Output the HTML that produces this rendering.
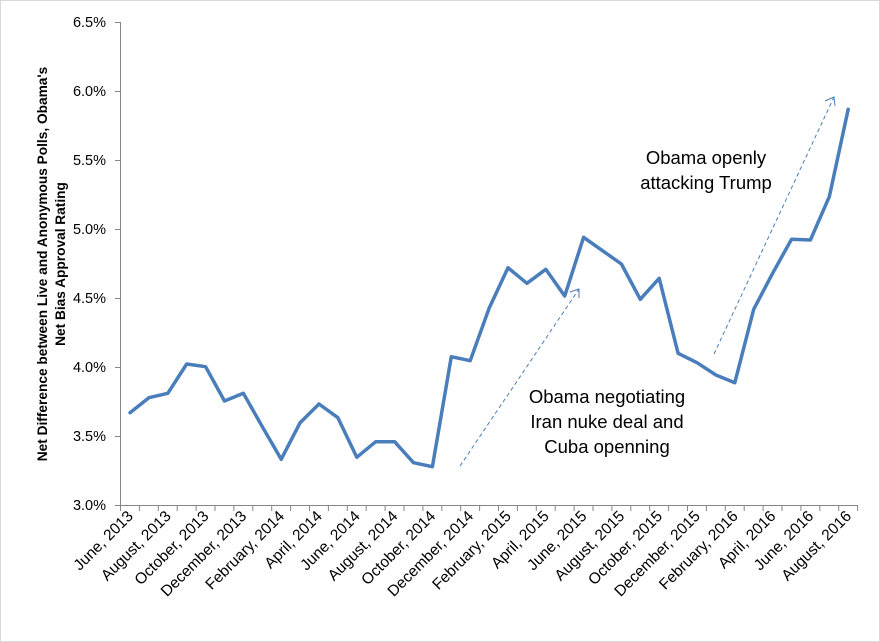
<!DOCTYPE html>
<html><head><meta charset="utf-8"><style>
html,body{margin:0;padding:0;background:#fff;}
svg{display:block;font-family:"Liberation Sans",sans-serif;}
</style></head><body>
<svg width="880" height="642" viewBox="0 0 880 642" xmlns="http://www.w3.org/2000/svg">
<rect x="0.5" y="0.5" width="879" height="641" fill="#fff" stroke="#d9d9d9"/>
<g stroke="#868686" stroke-width="1">
<line x1="120.5" y1="22" x2="120.5" y2="505"/>
<line x1="120.5" y1="505.5" x2="858" y2="505.5"/>
<path d="M115 22.5H120.5M115 91.5H120.5M115 160.5H120.5M115 229.5H120.5M115 298.5H120.5M115 367.5H120.5M115 436.5H120.5M115 505.5H120.5"/>
<path d="M120.5 505V511M139.4 505V511M158.3 505V511M177.2 505V511M196.1 505V511M215 505V511M233.9 505V511M252.8 505V511M271.7 505V511M290.6 505V511M309.5 505V511M328.4 505V511M347.3 505V511M366.2 505V511M385.1 505V511M404 505V511M422.9 505V511M441.8 505V511M460.7 505V511M479.6 505V511M498.5 505V511M517.4 505V511M536.3 505V511M555.2 505V511M574.1 505V511M593 505V511M611.9 505V511M630.8 505V511M649.7 505V511M668.6 505V511M687.5 505V511M706.4 505V511M725.3 505V511M744.2 505V511M763.1 505V511M782 505V511M800.9 505V511M819.8 505V511M838.7 505V511M857.6 505V511"/>
</g>
<g font-size="14.5" fill="#000" text-anchor="end">
<text x="106" y="27">6.5%</text>
<text x="106" y="96">6.0%</text>
<text x="106" y="165">5.5%</text>
<text x="106" y="234">5.0%</text>
<text x="106" y="303">4.5%</text>
<text x="106" y="372">4.0%</text>
<text x="106" y="441">3.5%</text>
<text x="106" y="510">3.0%</text>
</g>
<g font-size="13.7" font-weight="bold" text-anchor="middle">
<text transform="translate(47,264) rotate(-90)">Net Difference between Live and Anonymous Polls, Obama's</text>
<text transform="translate(65,264) rotate(-90)">Net Bias Approval Rating</text>
</g>
<g font-size="15.5" text-anchor="end">
<text transform="translate(134,517) rotate(-45)">June, 2013</text>
<text transform="translate(171.8,517) rotate(-45)">August, 2013</text>
<text transform="translate(209.6,517) rotate(-45)">October, 2013</text>
<text transform="translate(247.4,517) rotate(-45)">December, 2013</text>
<text transform="translate(285.2,517) rotate(-45)">February, 2014</text>
<text transform="translate(323,517) rotate(-45)">April, 2014</text>
<text transform="translate(360.8,517) rotate(-45)">June, 2014</text>
<text transform="translate(398.6,517) rotate(-45)">August, 2014</text>
<text transform="translate(436.4,517) rotate(-45)">October, 2014</text>
<text transform="translate(474.2,517) rotate(-45)">December, 2014</text>
<text transform="translate(512,517) rotate(-45)">February, 2015</text>
<text transform="translate(549.8,517) rotate(-45)">April, 2015</text>
<text transform="translate(587.6,517) rotate(-45)">June, 2015</text>
<text transform="translate(625.4,517) rotate(-45)">August, 2015</text>
<text transform="translate(663.2,517) rotate(-45)">October, 2015</text>
<text transform="translate(701,517) rotate(-45)">December, 2015</text>
<text transform="translate(738.8,517) rotate(-45)">February, 2016</text>
<text transform="translate(776.6,517) rotate(-45)">April, 2016</text>
<text transform="translate(814.4,517) rotate(-45)">June, 2016</text>
<text transform="translate(852.2,517) rotate(-45)">August, 2016</text>
</g>
<polyline fill="none" stroke="#4a7ebb" stroke-width="3.5" stroke-linejoin="round" stroke-linecap="round"
points="130,412.7 148.9,397.7 167.8,393.3 186.7,364 205.6,366.7 224.5,401 243.4,393.3 262.3,426.7 281.2,459.3 300.1,422.7 319,404 337.9,417.7 356.8,457.3 375.7,441.7 394.6,441.7 413.5,462.7 432.4,466.7 451.3,356.7 470.2,360.7 489.1,308.3 508,267.7 526.9,283.3 545.8,269.3 564.7,296 583.6,237.3 602.5,250.7 621.4,264 640.3,299.3 659.2,278.3 678.1,353.3 697,362.7 715.9,375 734.8,382.7 753.7,309.3 772.6,273.3 791.5,239.3 810.4,240 829.3,196.7 848.2,109.3"/>
<g stroke="#4a7ebb" stroke-width="1" fill="none">
<line x1="460" y1="466" x2="579" y2="289" stroke-dasharray="4,3"/>
<polyline points="570,292 579,289 579,298"/>
<line x1="714" y1="354" x2="834" y2="97" stroke-dasharray="4,3"/>
<polyline points="825,101 834,97 835,106"/>
</g>
<g font-size="18.5" text-anchor="middle">
<text x="706" y="164">Obama openly</text>
<text x="706" y="189">attacking Trump</text>
<text x="607" y="403">Obama negotiating</text>
<text x="607" y="428">Iran nuke deal and</text>
<text x="607" y="453">Cuba openning</text>
</g>
</svg>
</body></html>
